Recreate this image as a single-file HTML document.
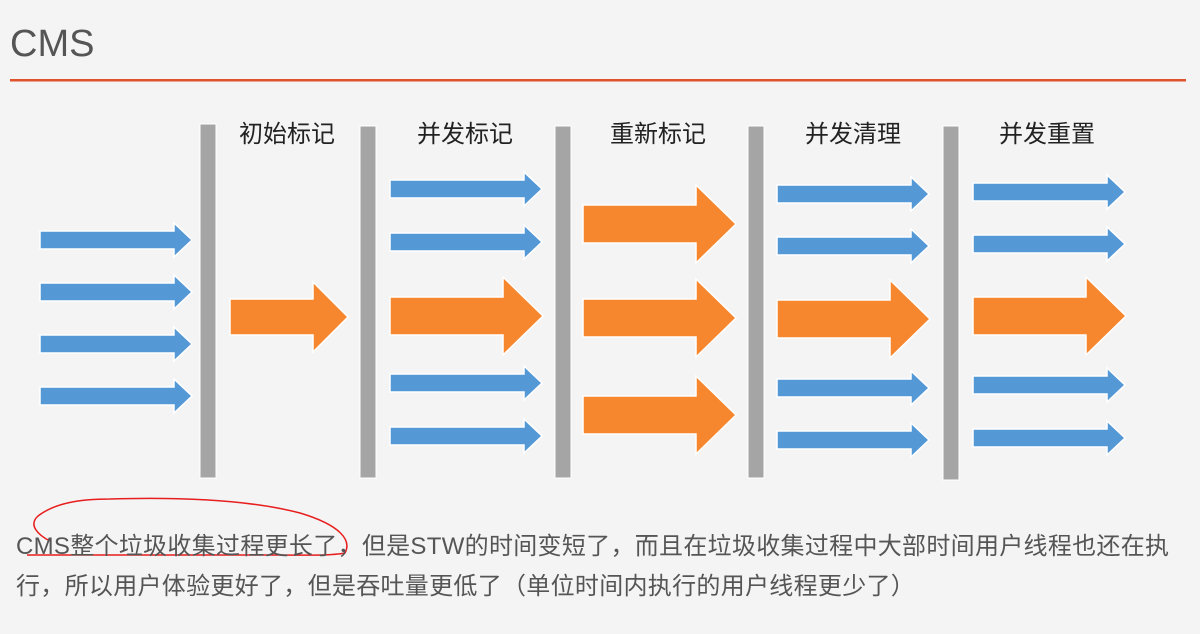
<!DOCTYPE html>
<html><head><meta charset="utf-8"><style>
html,body{margin:0;padding:0;background:#f4f4f4;}
body{width:1200px;height:634px;overflow:hidden;position:relative;font-family:"Liberation Sans","Noto Sans CJK SC",sans-serif;}
.t{position:absolute;left:16px;font-size:24px;color:#555;white-space:nowrap;letter-spacing:0.3px;}
</style></head><body>
<svg width="1200" height="634" style="position:absolute;left:0;top:0">
<defs>
<polygon id="b" points="0,-9 134,-9 134,-17 152,0 134,17 134,9 0,9" fill="#5598d6" stroke="#fff" stroke-width="1.5"/>
<polygon id="o" points="0,-19 113,-19 113,-39 153,0 113,39 113,19 0,19" fill="#f7872f" stroke="#fff" stroke-width="1.5"/>
</defs>
<text x="10" y="56" font-family="Liberation Sans, sans-serif" font-size="38" fill="#555">CMS</text>
<rect x="10" y="79" width="1176" height="2.5" fill="#e0522a"/>
<g fill="#a5a5a5" stroke="#fff" stroke-width="1">
<rect x="200" y="124" width="16" height="354"/>
<rect x="360" y="126" width="16" height="352"/>
<rect x="555" y="126" width="16" height="352"/>
<rect x="748" y="126" width="16" height="352"/>
<rect x="943" y="126" width="16" height="354"/>
</g>
<g font-family="Liberation Sans, Noto Sans CJK SC, sans-serif" font-size="24" fill="#222" text-anchor="middle">
<text x="287" y="142">初始标记</text>
<text x="465" y="142">并发标记</text>
<text x="658" y="142">重新标记</text>
<text x="853" y="142">并发清理</text>
<text x="1047" y="142">并发重置</text>
</g>
<use href="#b" transform="translate(40,240)"/>
<use href="#b" transform="translate(40,292)"/>
<use href="#b" transform="translate(40,344)"/>
<use href="#b" transform="translate(40,396)"/>
<polygon points="230,299 313,299 313,282 348,317 313,352 313,335 230,335" fill="#f7872f" stroke="#fff" stroke-width="1.5"/>
<use href="#b" transform="translate(390,189)"/>
<use href="#b" transform="translate(390,242)"/>
<use href="#o" transform="translate(390,316)"/>
<use href="#b" transform="translate(390,383)"/>
<use href="#b" transform="translate(390,436)"/>
<use href="#o" transform="translate(583,224)"/>
<use href="#o" transform="translate(583,318)"/>
<use href="#o" transform="translate(583,415)"/>
<use href="#b" transform="translate(777,194)"/>
<use href="#b" transform="translate(777,246)"/>
<use href="#o" transform="translate(777,319)"/>
<use href="#b" transform="translate(777,388)"/>
<use href="#b" transform="translate(777,440)"/>
<use href="#b" transform="translate(973,192)"/>
<use href="#b" transform="translate(973,244)"/>
<use href="#o" transform="translate(973,316)"/>
<use href="#b" transform="translate(973,385)"/>
<use href="#b" transform="translate(973,438)"/>
<path d="M50,541 C38,535 28,525 38,516 C55,503 80,499 110,499 C180,497 250,500 300,513 C340,525 352,540 345,553 C330,556 300,555 280,555 L27,555" fill="none" stroke="#e81d1d" stroke-width="1.5"/>
</svg>
<div class="t" style="top:526px">CMS整个垃圾收集过程更长了，但是STW的时间变短了，而且在垃圾收集过程中大部时间用户线程也还在执</div>
<div class="t" style="top:566px">行，所以用户体验更好了，但是吞吐量更低了（单位时间内执行的用户线程更少了）</div>
</body></html>
